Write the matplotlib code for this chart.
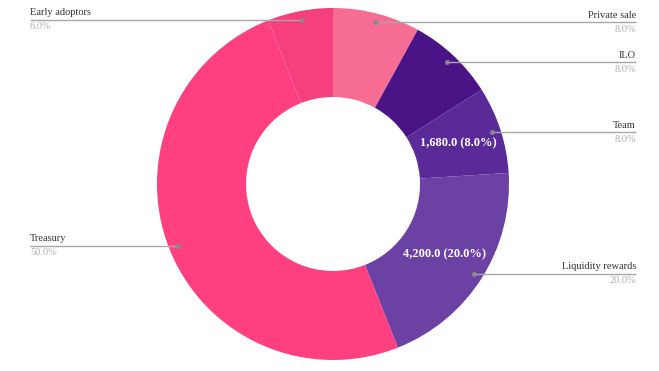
import matplotlib
matplotlib.use("Agg")
import matplotlib.pyplot as plt
import numpy as np

labels = ["Private sale", "ILO", "Team", "Liquidity rewards", "Treasury", "Early adoptors"]
values = [1680, 1680, 1680, 4200, 10500, 1260]
colors = ["#F76C92", "#4A1486", "#5A2A98", "#6B41A3", "#FE4080", "#F53F7E"]
inner_labels = [False, False, True, True, False, False]

W, H = 659, 371
fig = plt.figure(figsize=(W / 100, H / 100), dpi=100)
ax = fig.add_axes([0, 0, 1, 1])
ax.set_xlim(0, W)
ax.set_ylim(0, H)
ax.set_aspect("equal")
ax.axis("off")

cx, cy, R = 333, H - 184, 176
hole = 87

wedges, _ = ax.pie(values, colors=colors, startangle=90, counterclock=False,
                   center=(cx, cy), radius=R,
                   wedgeprops=dict(width=R - hole, linewidth=0))
ax.set_xlim(0, W)
ax.set_ylim(0, H)

total = sum(values)
serif = ["Liberation Serif", "DejaVu Serif"]
for w, lab, v, inner in zip(wedges, labels, values, inner_labels):
    ang = np.deg2rad((w.theta1 + w.theta2) / 2)
    pct = v / total * 100
    r = 0.95 * R
    px, py = cx + r * np.cos(ang), cy + r * np.sin(ang)
    if px >= cx:
        x_end = 636
        ha = "right"
    else:
        x_end = 30
        ha = "left"
    ax.plot([px, x_end], [py, py], color="#a8a8a8", lw=1.0, solid_capstyle="butt")
    ax.plot([px], [py], marker="o", ms=2.5, color="#8a8a8a")
    ax.text(x_end, py + 2.5, lab, ha=ha, va="bottom", fontsize=7.5,
            family=serif, color="#333333")
    ax.text(x_end, py - 2.5, f"{pct:.1f}%", ha=ha, va="top", fontsize=7.5,
            family=serif, color="#b0b0b0")
    if inner:
        rm = (R + hole) / 2
        tx, ty = cx + rm * np.cos(ang), cy + rm * np.sin(ang)
        ax.text(tx, ty, f"{v:,.1f} ({pct:.1f}%)", ha="center", va="center",
                fontsize=9, fontweight="bold", family=serif, color="white")

fig.savefig("out.png", dpi=100)
